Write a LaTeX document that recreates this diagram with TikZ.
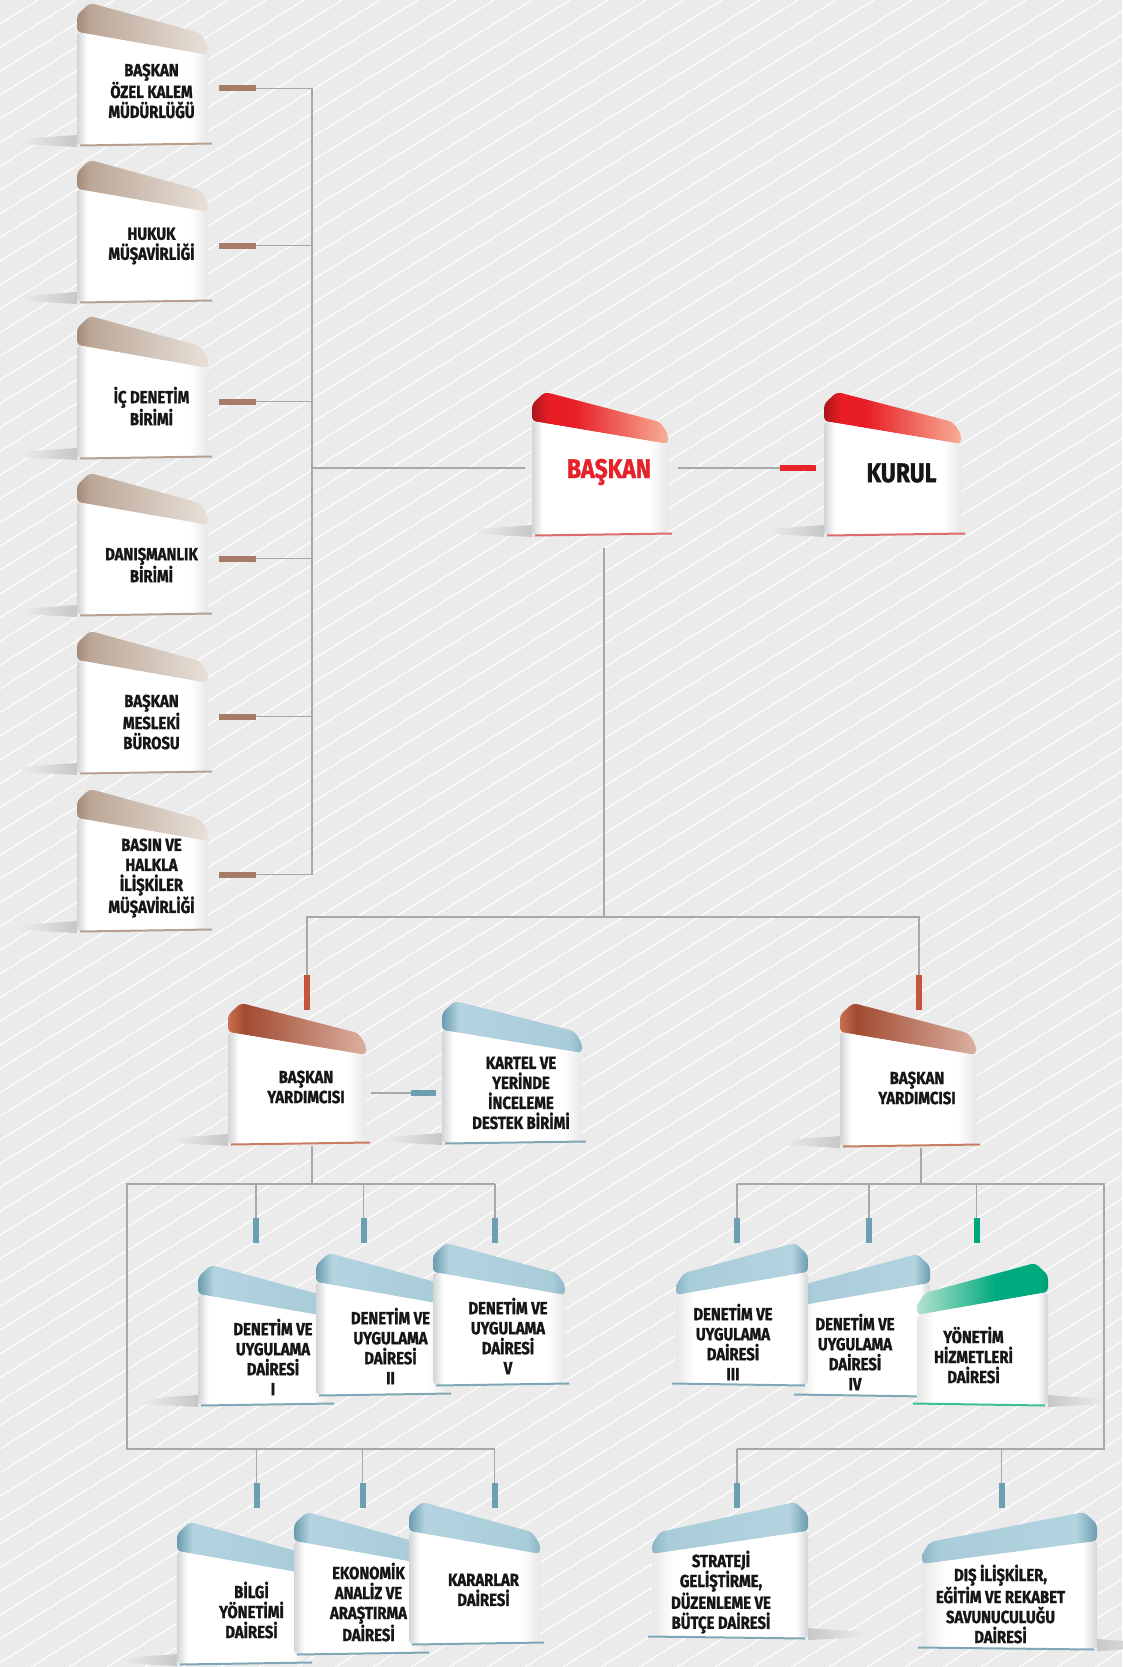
\documentclass[tikz,border=0pt]{standalone}
\usepackage{fontspec}
\setmainfont{Fira Sans}[FakeStretch=0.85, BoldFeatures={FakeBold=1.3}]
\usetikzlibrary{calc,positioning}

% colours
\definecolor{bgc}{HTML}{EBEBEB}
\definecolor{wirec}{HTML}{A7A7A7}
\definecolor{textc}{HTML}{161616}
\definecolor{basred}{HTML}{E4222A}
\definecolor{faceL}{HTML}{D3D4D6}
\definecolor{faceR}{HTML}{E8E8E9}
\definecolor{brownA}{HTML}{A38A79}
\definecolor{brownB}{HTML}{BCA797}
\definecolor{brownC}{HTML}{E8E0D9}
\definecolor{redA}{HTML}{A8171D}
\definecolor{redB}{HTML}{E81D25}
\definecolor{redC}{HTML}{F7AE95}
\definecolor{rustA}{HTML}{C9704F}
\definecolor{rustB}{HTML}{A24B31}
\definecolor{rustC}{HTML}{DAB0A0}
\definecolor{blueA}{HTML}{6A9BAE}
\definecolor{blueB}{HTML}{B3D3DF}
\definecolor{blueC}{HTML}{A9CCD9}
\definecolor{blueD}{HTML}{8DB6C6}
\definecolor{greenA}{HTML}{009C74}
\definecolor{greenB}{HTML}{00AA7F}
\definecolor{greenC}{HTML}{B4E2CF}
\definecolor{brownstub}{HTML}{A67B68}
\definecolor{redstub}{HTML}{E8222A}
\definecolor{ruststub}{HTML}{C2553A}
\definecolor{bluestub}{HTML}{6D9FB2}
\definecolor{greenstub}{HTML}{00A77C}
\definecolor{brownedge}{HTML}{B8A091}
\definecolor{rededge}{HTML}{DD6A6C}
\definecolor{rustedge}{HTML}{C77C63}
\definecolor{blueedge}{HTML}{7FA8B7}
\definecolor{greenedge}{HTML}{3DBF96}

% cap and face shadings
\pgfdeclarehorizontalshading{browncap}{100bp}{color(0bp)=(brownA); color(25bp)=(brownA); color(30bp)=(brownB); color(75bp)=(brownC); color(100bp)=(brownC)}
\pgfdeclarehorizontalshading{redcap}{100bp}{color(0bp)=(redA); color(25bp)=(redA); color(31bp)=(redB); color(40bp)=(redB); color(75bp)=(redC); color(100bp)=(redC)}
\pgfdeclarehorizontalshading{rustcap}{100bp}{color(0bp)=(rustA); color(25bp)=(rustA); color(31bp)=(rustB); color(75bp)=(rustC); color(100bp)=(rustC)}
\pgfdeclarehorizontalshading{bluecap}{100bp}{color(0bp)=(blueA); color(25bp)=(blueA); color(31bp)=(blueB); color(70bp)=(blueC); color(75bp)=(blueD); color(100bp)=(blueD)}
\pgfdeclarehorizontalshading{greencap}{100bp}{color(0bp)=(greenA); color(25bp)=(greenA); color(28bp)=(greenB); color(45bp)=(greenB); color(75bp)=(greenC); color(100bp)=(greenC)}
\pgfdeclarehorizontalshading{facegrad}{100bp}{color(0bp)=(faceL); color(25bp)=(faceL); color(29bp)=(white); color(68bp)=(white); color(75bp)=(faceR); color(100bp)=(faceR)}

\pgfdeclarelayer{bg}
\pgfdeclarelayer{shade}
\pgfsetlayers{bg,shade,main}

\newcommand{\bigfont}{\fontsize{27}{30}\selectfont}

% #1 name, #2 x, #3 y, #4 width, #5 height, #6 colour, #7 side (1 or -1), #8 text, #9 text depth
\newcommand{\orgbox}[9]{%
  \begin{scope}[shift={({#2+#4*(1-(#7))/2},#3)}, xscale=#7]
    \begin{pgfonlayer}{shade}
      \shade[left color=bgc, right color=black!22, shading angle={180-90*(#7)}] (-55,#5-6) -- (0,#5-10) -- (0,#5+2) -- (-55,#5-1) -- cycle;
    \end{pgfonlayer}
    \shade[shading=#6cap, shading angle={90*(1-(#7))}, rounded corners=4] (0,29) -- (0,12) -- (13,0) -- (#4-8,30) -- (#4,42) -- (#4,52) -- cycle;
    \shade[shading=facegrad, shading angle={90*(1-(#7))}, rounded corners=4] (0,29) -- (#4,52) -- (#4,#5-2) -- (0,#5) -- cycle;
    \draw[#6edge, line width=2pt] (3,#5+0.5) -- (#4+4,#5-1.5);
  \end{scope}
  \node[facebox, minimum width={#4}, minimum height={#5-29}] (#1) at ({#2+#4/2},{#3+(29+#5)/2}) {};
  \node[boxtext] (#1-t) at ({#2+#4/2+9*(#7)},{#3+#9}) {#8};
}

\begin{document}
\begin{tikzpicture}[x=1pt,y=-1pt,
    wire/.style={draw=wirec, line width=1.4pt},
    stripe/.style={draw=white, line width=1.1pt},
    stubbrown/.style={draw=brownstub, line width=6pt},
    stubred/.style={draw=redstub, line width=6pt},
    stubrust/.style={draw=ruststub, line width=6pt},
    stubblue/.style={draw=bluestub, line width=6pt},
    stubgreen/.style={draw=greenstub, line width=6pt},
    facebox/.style={inner sep=0pt, outer sep=0pt},
    boxtext/.style={align=center, text=textc, inner sep=0pt,
        font=\bfseries\fontsize{17.5}{20}\selectfont}]

\useasboundingbox (0,0) rectangle (1122,1667);
\begin{pgfonlayer}{bg}
  \fill[bgc] (0,0) rectangle (1122,1667);
  \begin{scope}
    \clip (0,0) rectangle (1122,1667);
    \foreach \i in {0,...,100}
      \draw[stripe] ({-2667+\i*38},1667) -- ++(2667,-1667);
  \end{scope}
\end{pgfonlayer}

% advisory units
\orgbox{ozel}{77}{3}{131}{142}{brown}{1}{BAŞKAN\\ÖZEL KALEM\\MÜDÜRLÜĞÜ}{88}
\orgbox{hukuk}{77}{160}{131}{142}{brown}{1}{HUKUK\\MÜŞAVİRLİĞİ}{86}
\orgbox{icdenetim}{77}{316}{131}{142}{brown}{1}{İÇ DENETİM\\BİRİMİ}{90}
\orgbox{danisma}{77}{473}{131}{142}{brown}{1}{DANIŞMANLIK\\BİRİMİ}{92}
\orgbox{meslek}{77}{631}{131}{142}{brown}{1}{BAŞKAN\\MESLEKİ\\BÜROSU}{91}
\orgbox{basin}{77}{789}{131}{142}{brown}{1}{BASIN VE\\HALKLA\\İLİŞKİLER\\MÜŞAVİRLİĞİ}{89}

% chair and board
\orgbox{baskan}{532}{392}{136}{143}{red}{1}{\bigfont\color{basred}BAŞKAN}{80}
\orgbox{kurul}{824}{392}{137}{143}{red}{1}{\bigfont KURUL}{81}

% deputies
\orgbox{byl}{228}{1003}{138}{141}{rust}{1}{BAŞKAN\\YARDIMCISI}{84}
\orgbox{kartel}{442}{1001}{140}{142}{blue}{1}{KARTEL VE\\YERİNDE\\İNCELEME\\DESTEK BİRİMİ}{92}
\orgbox{byr}{840}{1003}{136}{143}{rust}{1}{BAŞKAN\\YARDIMCISI}{85}

% departments
\orgbox{dui1}{198}{1265}{132}{140}{blue}{1}{DENETİM VE\\UYGULAMA\\DAİRESİ\\I}{92}
\orgbox{dui2}{316}{1253}{131}{142}{blue}{1}{DENETİM VE\\UYGULAMA\\DAİRESİ\\II}{93}
\orgbox{dui5}{433}{1243}{132}{142}{blue}{1}{DENETİM VE\\UYGULAMA\\DAİRESİ\\V}{93}
\orgbox{dui4}{798}{1254}{132}{142}{blue}{-1}{DENETİM VE\\UYGULAMA\\DAİRESİ\\IV}{98}
\orgbox{dui3}{676}{1243}{132}{142}{blue}{-1}{DENETİM VE\\UYGULAMA\\DAİRESİ\\III}{99}
\orgbox{yonetim}{917}{1263}{131}{142}{green}{-1}{YÖNETİM\\HİZMETLERİ\\DAİRESİ}{92}
\orgbox{bilgi}{177}{1522}{131}{142}{blue}{1}{BİLGİ\\YÖNETİMİ\\DAİRESİ}{88}
\orgbox{ekonomik}{294}{1512}{131}{142}{blue}{1}{EKONOMİK\\ANALİZ VE\\ARAŞTIRMA\\DAİRESİ}{90}
\orgbox{kararlar}{409}{1502}{131}{142}{blue}{1}{KARARLAR\\DAİRESİ}{88}
\orgbox{strateji}{652}{1502}{156}{136}{blue}{-1}{STRATEJİ\\GELİŞTİRME,\\DÜZENLEME VE\\BÜTÇE DAİRESİ}{90}
\orgbox{dis}{922}{1512}{175}{137}{blue}{-1}{DIŞ İLİŞKİLER,\\EĞİTİM VE REKABET\\SAVUNUCULUĞU\\DAİRESİ}{92}

% advisory units to chair
\coordinate (trunk) at (312,468);
\foreach \b in {ozel,hukuk,icdenetim,danisma,meslek,basin}{
  \draw[wire] ($(\b.east)+(48,0)$) -- (\b.east -| trunk);
  \draw[stubbrown] ($(\b.east)+(11,0)$) -- ++(37,0);
}
\draw[wire] (ozel.east -| trunk) -- (basin.east -| trunk);
\draw[wire] (trunk) -- ($(baskan.west |- trunk)+(-7,0)$);

% chair to board
\draw[wire] ($(baskan.east |- trunk)+(10,0)$) -- ($(kurul.west |- trunk)+(-44,0)$);
\draw[stubred] ($(kurul.west |- trunk)+(-44,0)$) -- ++(36,0);

% chair to deputies
\coordinate (split) at (604,917);
\draw[wire] ($(baskan.south -| split)+(0,13)$) -- (split);
\draw[wire] ($(byl.north)+(10,-57)$) |- (split) -| ($(byr.north)+(11,-57)$);
\draw[stubrust] ($(byl.north)+(10,-57)$) -- ++(0,35);
\draw[stubrust] ($(byr.north)+(11,-57)$) -- ++(0,35);
\draw[wire] ($(byl.east)+(5,5)$) -- ++(40,0);
\draw[stubblue] ($(byl.east)+(45,5)$) -- ($(kartel.west |- byl.east)+(-6,5)$);

% left deputy
\coordinate (lrailtop) at (127,1184);
\coordinate (lrailbot) at (127,1449);
\draw[wire] ($(byl.south)+(15,2)$) -- ($(byl.south |- lrailtop)+(15,0)$);
\draw[wire] ($(dui5.north |- lrailtop)+(-4,0)$) -- (lrailtop) -- (lrailbot) -- ($(kararlar.north |- lrailbot)+(20,0)$);
\foreach \b/\dx in {dui1/-8,dui2/-18,dui5/-4}{
  \draw[wire] ($(\b.north |- lrailtop)+(\dx,0)$) -- ++(0,34);
  \draw[stubblue] ($(\b.north |- lrailtop)+(\dx,34)$) -- ++(0,25);
}
\foreach \b/\dx in {bilgi/14,ekonomik/3,kararlar/20}{
  \draw[wire] ($(\b.north |- lrailbot)+(\dx,0)$) -- ++(0,34);
  \draw[stubblue] ($(\b.north |- lrailbot)+(\dx,34)$) -- ++(0,25);
}

% right deputy
\coordinate (rrailtop) at (1104,1184);
\coordinate (rrailbot) at (1104,1449);
\draw[wire] ($(byr.south)+(13,2)$) -- ($(byr.south |- rrailtop)+(13,0)$);
\draw[wire] ($(dui3.north |- rrailtop)+(-5,0)$) -- (rrailtop) -- (rrailbot) -- ($(strateji.north |- rrailbot)+(7,0)$);
\foreach \b/\dx/\st in {dui3/-5/stubblue,dui4/5/stubblue,yonetim/-6/stubgreen}{
  \draw[wire] ($(\b.north |- rrailtop)+(\dx,0)$) -- ++(0,34);
  \draw[\st] ($(\b.north |- rrailtop)+(\dx,34)$) -- ++(0,25);
}
\foreach \b/\dx in {strateji/7,dis/-8}{
  \draw[wire] ($(\b.north |- rrailbot)+(\dx,0)$) -- ++(0,34);
  \draw[stubblue] ($(\b.north |- rrailbot)+(\dx,34)$) -- ++(0,25);
}
\end{tikzpicture}
\end{document}
